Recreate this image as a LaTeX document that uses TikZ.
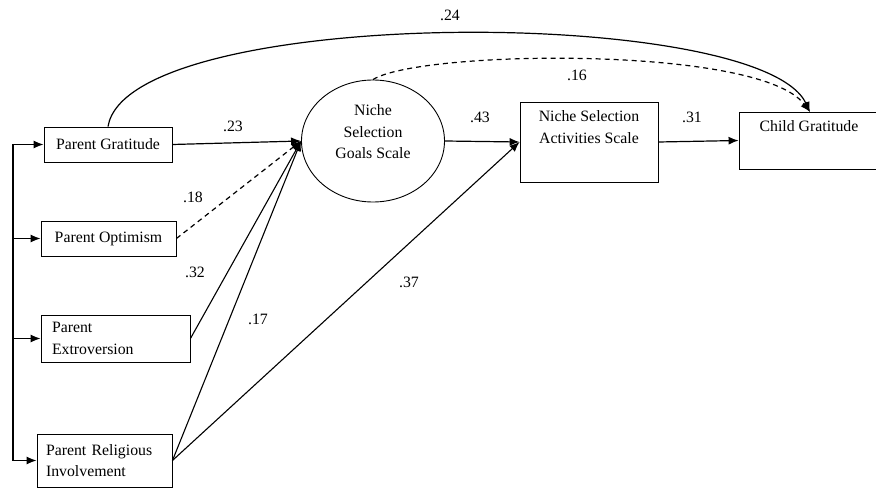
\documentclass[tikz,border=0pt]{standalone}
\usepackage{fontspec}
\setmainfont{Liberation Serif}
\usetikzlibrary{arrows.meta,shapes.geometric}
\begin{document}
\begin{tikzpicture}[x=1pt,y=-1pt,
  every node/.style={font=\fontsize{15.8}{21.5}\selectfont},
  box/.style={draw, line width=0.9pt, rectangle, inner sep=0pt},
  conn/.style={line width=1.2pt, -{Latex[length=10pt,width=8pt]}},
  dconn/.style={conn, dashed, dash pattern=on 5pt off 4pt},
  coef/.style={inner sep=0pt}]
\useasboundingbox (0,0) rectangle (876,489);
% boxes
\node[box, minimum width=128, minimum height=35] (pg) at (108,144.5) {Parent Gratitude};
\node[box, minimum width=135, minimum height=35] (po) at (108.5,238.5) {Parent Optimism};
\node[box, minimum width=149, minimum height=47, align=left, text width=127, inner xsep=11pt] (pe) at (115.5,338.5) {Parent\\Extroversion};
\node[box, minimum width=135, minimum height=53, align=left, text width=117, inner xsep=9pt] (pri) at (104.5,460.5) {Parent Religious\\Involvement};
\node[draw, line width=0.9pt, ellipse, minimum width=143, minimum height=122, inner sep=0pt] (ell) at (373,141) {};
\node[align=center] (ellT) at (373,132) {Niche\\Selection\\Goals Scale};
\node[box, minimum width=138, minimum height=80] (nsas) at (589,142) {};
\node[align=center] (nsasT) at (589,127) {Niche Selection\\Activities Scale};
\node[box, minimum width=137, minimum height=57] (cg) at (807.5,140.5) {};
\node (cgT) at (809,126) {Child Gratitude};
% spine
\coordinate (spine) at (13,0);
\draw[line width=1.2pt] (pg.west -| spine) -- (pri.west -| spine);
\foreach \b in {pg,po,pe,pri}
  \draw[conn] (\b.west -| spine) -- (\b.west);
% paths
\draw[conn] (pg.east) -- (ell.west);
\draw[dconn] (po.east) -- (ell.west);
\draw[conn, line width=1.1pt] (pe.east) -- (ell.west);
\draw[conn, line width=1.1pt] (pri.east) -- (ell.west);
\draw[conn, line width=1.1pt] (pri.east) -- (nsas.west);
\draw[conn] (ell.east) -- (nsas.west);
\draw[conn] (nsas.east) -- (cg.west);
\coordinate (cgIn) at (810,112);
\draw[conn] (pg.north) .. controls (128,5) and (760,5) .. (cgIn);
\draw[dconn] (ell.north) .. controls (420,50) and (760,45) .. (cgIn);
% coefficients
\node[coef] (l24) at (450,15) {.24};
\node[coef] (l16) at (577,75) {.16};
\node[coef] (l23) at (233,126) {.23};
\node[coef] (l43) at (480,117) {.43};
\node[coef] (l31) at (692,117) {.31};
\node[coef] (l18) at (193,197) {.18};
\node[coef] (l32) at (195,272) {.32};
\node[coef] (l17) at (258,319) {.17};
\node[coef] (l37) at (409,282) {.37};
\end{tikzpicture}
\end{document}
